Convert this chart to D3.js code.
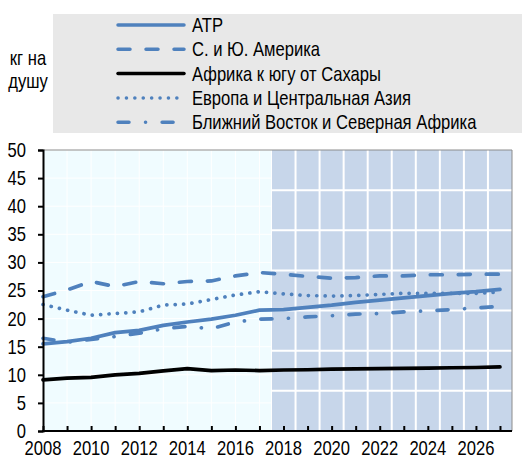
<!DOCTYPE html>
<html>
<head>
<meta charset="utf-8">
<script src="https://cdn.jsdelivr.net/npm/d3@7"></script>
<style>
  body { margin: 0; background: #fff; }
  text { font-family: 'Liberation Sans', Arial, sans-serif; fill: #000; }
</style>
</head>
<body>
<svg id="chart" width="522" height="457"></svg>
<script>
const years = d3.range(2008, 2028)
const seriesNames = ["АТР", "С. и Ю. Америка", "Африка к югу от Сахары", "Европа и Центральная Азия", "Ближний Восток и Северная Африка"]
const atp     = [15.5, 15.9, 16.5, 17.5, 17.9, 18.8, 19.4, 19.9, 20.6, 21.5, 21.6, 22.0, 22.4, 22.9, 23.3, 23.7, 24.1, 24.5, 24.8, 25.2]
const america = [23.9, 25.1, 26.6, 25.7, 26.6, 26.2, 26.6, 26.7, 27.6, 28.2, 27.9, 27.5, 27.2, 27.3, 27.6, 27.6, 27.8, 27.8, 27.9, 27.9]
const africa  = [9.1, 9.4, 9.55, 10.0, 10.25, 10.7, 11.1, 10.75, 10.85, 10.75, 10.85, 10.9, 11.0, 11.05, 11.1, 11.15, 11.2, 11.25, 11.3, 11.4]
const europe  = [22.5, 21.5, 20.6, 20.9, 21.2, 22.4, 22.6, 23.4, 24.2, 24.8, 24.4, 24.1, 24.0, 24.1, 24.3, 24.5, 24.5, 24.5, 24.5, 24.7]
const mena    = [16.5, 15.8, 16.3, 16.8, 17.4, 18.2, 18.6, 18.2, 19.4, 19.9, 20.0, 20.3, 20.5, 20.8, 20.9, 21.2, 21.4, 21.6, 21.9, 22.2]
const yTicks = d3.range(0, 51, 5)
const xTickLabels = d3.range(2008, 2027, 2)
const projectionStart = 2017.5

const BLUE = "#4f81bd"
const NARROW = 0.83
const styles = [
    {color: BLUE, dash: null},
    {color: BLUE, dash: "12,16"},
    {color: "#000", dash: null},
    {color: BLUE, dash: "0.1,8.3"},
    {color: BLUE, dash: "11,16.5,0.1,16.5"}
]
const allSeries = [atp, america, africa, europe, mena]

const svg = d3.select("#chart")
const L = 43, R = 512, T = 150, B = 431

const x = d3.scaleLinear().domain([2008, 2027.5]).range([L, R])
const y = d3.scaleLinear().domain([0, 50]).range([B, T])

// narrow text (no condensed font installed, so squeeze horizontally)
function label(px, py, str, anchor) {
    return svg.append("text")
        .attr("transform", `translate(${px},${py}) scale(${NARROW},1)`)
        .attr("text-anchor", anchor || "start")
        .style("font-size", "20px")
        .text(str)
}

// legend box
svg.append("rect")
    .attr("x", 53).attr("y", 14).attr("width", 522 - 53).attr("height", 119)
    .attr("fill", "#e8e8e8")

label(28, 65, "кг на", "middle")
label(28, 88, "душу", "middle")

seriesNames.forEach(function (name, i) {
    const ly = 25 + i * 24.3
    svg.append("line")
        .attr("x1", 118).attr("x2", 184).attr("y1", ly).attr("y2", ly)
        .attr("stroke", styles[i].color)
        .attr("stroke-width", 3.5)
        .attr("stroke-linecap", "round")
        .attr("stroke-dasharray", styles[i].dash)
    label(192, ly + 7, name)
})

// backgrounds
svg.append("rect")
    .attr("x", L).attr("y", T).attr("width", x(projectionStart) - L).attr("height", B - T)
    .attr("fill", "#f0fcff")
svg.append("rect")
    .attr("x", x(projectionStart)).attr("y", T).attr("width", R - x(projectionStart)).attr("height", B - T)
    .attr("fill", "#c7d6ea")

// faint grid in historic part
const histGrid = svg.append("g").attr("stroke", "#fff").attr("stroke-width", 1)
d3.range(2009, 2018).forEach(function (yr) {
    histGrid.append("line").attr("x1", x(yr)).attr("x2", x(yr)).attr("y1", T).attr("y2", B)
})
yTicks.slice(1).forEach(function (v) {
    histGrid.append("line").attr("x1", L).attr("x2", x(projectionStart)).attr("y1", y(v)).attr("y2", y(v))
})

// white grid in projection part
const projGrid = svg.append("g").attr("stroke", "#fff").attr("stroke-width", 2)
d3.range(2018.5, 2027, 1).forEach(function (yr) {
    projGrid.append("line").attr("x1", x(yr)).attr("x2", x(yr)).attr("y1", T).attr("y2", B)
})
d3.range(1, 7).forEach(function (k) {
    projGrid.append("line").attr("x1", x(projectionStart)).attr("x2", R)
        .attr("y1", y(k * 50 / 7)).attr("y2", y(k * 50 / 7))
})
projGrid.append("line").attr("x1", x(projectionStart)).attr("x2", x(projectionStart))
    .attr("y1", T).attr("y2", B).attr("stroke-width", 1)

// plot frame (top/right)
svg.append("path")
    .attr("d", `M${L},${T}H${R}V${B}`)
    .attr("fill", "none").attr("stroke", "#8c8c8c").attr("stroke-width", 1)

// lines
const line = d3.line()
    .x((d, i) => x(years[i]))
    .y(d => y(d))

allSeries.forEach(function (s, i) {
    svg.append("path")
        .datum(s)
        .attr("d", line)
        .attr("fill", "none")
        .attr("stroke", styles[i].color)
        .attr("stroke-width", 3.7)
        .attr("stroke-linecap", "round")
        .attr("stroke-linejoin", "round")
        .attr("stroke-dasharray", styles[i].dash)
})

// Y axis
const yAxis = svg.append("g")
    .attr("transform", `translate(${L},0)`)
    .call(d3.axisLeft(y).tickValues(yTicks).tickSize(5))
yAxis.select(".domain").attr("stroke", "#000").attr("stroke-width", 2)
yAxis.selectAll(".tick line").attr("stroke", "#000").attr("stroke-width", 2)
yAxis.selectAll(".tick text")
    .attr("x", -17 / NARROW)
    .attr("transform", `scale(${NARROW},1)`)
    .style("font-size", "20px")
    .style("font-family", null)

// X axis
const xAxis = svg.append("g")
    .attr("transform", `translate(0,${B})`)
    .call(d3.axisBottom(x).tickValues(years).tickSize(0).tickFormat(""))
xAxis.select(".domain").remove()
xAxis.selectAll(".tick line").attr("y2", -5).attr("stroke", "#000").attr("stroke-width", 2)
svg.append("line").attr("x1", L - 1).attr("x2", R).attr("y1", B).attr("y2", B)
    .attr("stroke", "#000").attr("stroke-width", 2)

xTickLabels.forEach(function (d) {
    label(x(d), 455, d, "middle")
})
</script>
</body>
</html>
